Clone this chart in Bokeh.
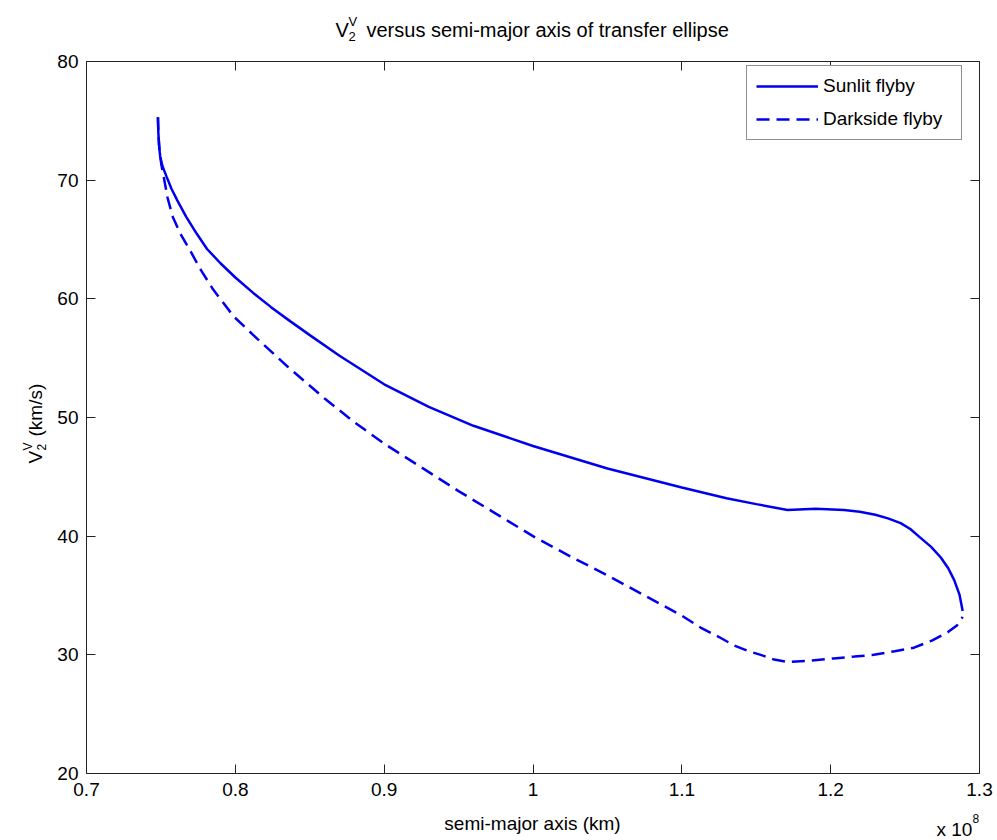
from bokeh.plotting import figure
from bokeh.models import (Range1d, LinearAxis, FixedTicker, Label, Legend,
                          LegendItem, CustomJSTickFormatter)
from bokeh.embed import file_html
from bokeh.resources import INLINE
import math

# ---------------- data (semi-major axis in units of 1e8 km, V2 in km/s) -------------
sun_x = [0.7480, 0.7482, 0.7487, 0.7495, 0.7510, 0.7538, 0.7570, 0.7610, 0.7670,
         0.7740, 0.7810, 0.7900, 0.8000, 0.8120, 0.8240, 0.8370, 0.8505, 0.8700,
         0.9000, 0.9300, 0.9600, 1.0000, 1.0500, 1.1000, 1.1300, 1.1500, 1.1710,
         1.1900, 1.2090, 1.2195, 1.2300, 1.2385, 1.2470, 1.2535, 1.2600, 1.2675,
         1.2740, 1.2790, 1.2830, 1.2865, 1.2887]
sun_y = [75.3, 74.2, 73.0, 72.0, 71.2, 70.3, 69.3, 68.3, 66.9,
         65.5, 64.2, 63.0, 61.8, 60.5, 59.3, 58.1, 56.9, 55.2,
         52.8, 50.9, 49.3, 47.6, 45.7, 44.1, 43.2, 42.7, 42.2,
         42.3, 42.2, 42.05, 41.8, 41.5, 41.1, 40.6, 39.9, 39.1,
         38.2, 37.3, 36.3, 35.1, 33.7]

dark_x = [0.7480, 0.7483, 0.7490, 0.7503, 0.7520, 0.7545, 0.7580, 0.7630, 0.7695,
          0.7770, 0.7850, 0.7990, 0.8150, 0.8350, 0.8600, 0.8800, 0.9000, 0.9250,
          0.9500, 0.9750, 1.0000, 1.0250, 1.0500, 1.0750, 1.1000, 1.1126, 1.1250,
          1.1350, 1.1450, 1.1530, 1.1620, 1.1710, 1.1850, 1.2020, 1.2160, 1.2290,
          1.2430, 1.2560, 1.2680, 1.2786, 1.2850, 1.2887]
dark_y = [75.3, 74.0, 72.6, 71.3, 70.2, 68.5, 66.9, 65.5, 64.1,
          62.4, 60.8, 58.5, 56.6, 54.3, 51.6, 49.6, 47.8, 45.8,
          43.8, 41.9, 40.0, 38.3, 36.7, 35.0, 33.3, 32.3, 31.5,
          30.8, 30.3, 30.0, 29.6, 29.4, 29.5, 29.7, 29.85, 30.0,
          30.3, 30.6, 31.2, 31.9, 32.5, 33.2]

x_ticks = [0.7, 0.8, 0.9, 1.0, 1.1, 1.2, 1.3]
y_ticks = [20, 30, 40, 50, 60, 70, 80]
series_labels = ["Sunlit flyby", "Darkside flyby"]

FONT = "Liberation Sans"
BLUE = "#0000ee"
AX = "#222222"

# ---------------- layout (figure pixels) ----------------
W, H = 997, 840
FL, FR, FT, FB = 86, 979, 61, 773      # axes box inside the figure
XMIN, XMAX = x_ticks[0], x_ticks[-1]
YMIN, YMAX = y_ticks[0], y_ticks[-1]
sx = (FR - FL) / (XMAX - XMIN)
sy = (FB - FT) / (YMAX - YMIN)
x_range = Range1d(XMIN - FL / sx, XMAX + (W - FR) / sx)
y_range = Range1d(YMIN - (H - FB) / sy, YMAX + FT / sy)

p = figure(width=W, height=H, x_range=x_range, y_range=y_range,
           output_backend="svg", toolbar_location=None, title=None,
           min_border=0, min_border_left=0, min_border_right=0,
           min_border_top=0, min_border_bottom=0)
p.background_fill_color = "white"
p.border_fill_color = "white"
p.outline_line_color = None
p.xgrid.visible = False
p.ygrid.visible = False

fmt_x = CustomJSTickFormatter(code="return (Math.round(tick*10)/10).toString();")
blank = CustomJSTickFormatter(code="return '';")


def style(ax, fs="19px"):
    ax.major_tick_in = 9
    ax.major_tick_out = 0
    ax.minor_tick_line_color = None
    ax.axis_line_color = AX
    ax.major_tick_line_color = AX
    ax.major_label_text_font = FONT
    ax.major_label_text_font_size = fs
    ax.major_label_text_color = "black"


xa = p.xaxis[0]
xa.ticker = FixedTicker(ticks=x_ticks)
xa.formatter = fmt_x
xa.fixed_location = YMIN
xa.bounds = (XMIN, XMAX)
style(xa)
xa.major_label_standoff = 9

ya = p.yaxis[0]
ya.ticker = FixedTicker(ticks=y_ticks)
ya.fixed_location = XMIN
ya.bounds = (YMIN, YMAX)
style(ya)
ya.major_label_standoff = 8

top = LinearAxis(ticker=FixedTicker(ticks=x_ticks), formatter=blank,
                 fixed_location=YMAX, bounds=(XMIN, XMAX))
style(top)
top.major_label_standoff = 0
p.add_layout(top, "above")
right = LinearAxis(ticker=FixedTicker(ticks=y_ticks), formatter=blank,
                   fixed_location=XMAX, bounds=(YMIN, YMAX))
style(right)
right.major_label_standoff = 0
p.add_layout(right, "right")

r1 = p.line(sun_x, sun_y, line_color=BLUE, line_width=2.5)
r2 = p.line(dark_x, dark_y, line_color=BLUE, line_width=2.5, line_dash="13 7")

legend = Legend(items=[LegendItem(label=series_labels[0], renderers=[r1]),
                       LegendItem(label=series_labels[1], renderers=[r2])],
                location=(746, H - 140), orientation="vertical")
legend.border_line_color = AX
legend.border_line_width = 1
legend.background_fill_color = "white"
legend.background_fill_alpha = 1
legend.label_text_font = FONT
legend.label_text_font_size = "19px"
legend.label_text_color = "black"
legend.glyph_width = 62
legend.glyph_height = 18
legend.label_height = 18
legend.label_width = 129
legend.label_standoff = 5
legend.spacing = 11
legend.padding = 9
legend.margin = 0
p.add_layout(legend)


# figure pixel -> data helpers for text placement
def X(px):
    return x_range.start + px / sx


def Y(py):
    return y_range.end - py / sy


def lab(text, px, py, fs, align="left", angle=0.0):
    p.add_layout(Label(x=X(px), y=Y(py), text=text, text_font=FONT,
                       text_font_size=fs, text_color="black", text_align=align,
                       text_baseline="alphabetic", angle=angle))


# title: V_2^V versus semi-major axis of transfer ellipse
lab("V", 335, 29, "20px")
lab("2", 348, 36, "13px")
lab("V", 348, 21, "13px")
lab("versus semi-major axis of transfer ellipse", 366, 29, "20px")

# x label + exponent
lab("semi-major axis (km)", 532, 823, "19px", align="center")
lab("x 10", 936, 829, "19px")
lab("8", 972, 818, "12px")

# y label (rotated): V_2^V (km/s)
a = math.pi / 2
lab("V", 35, 463, "19px", angle=a)
lab("2", 41, 450, "12px", angle=a)
lab("V", 27, 450, "12px", angle=a)
lab("(km/s)", 35, 436, "19px", angle=a)

open("out.html", "w").write(file_html(p, INLINE))
